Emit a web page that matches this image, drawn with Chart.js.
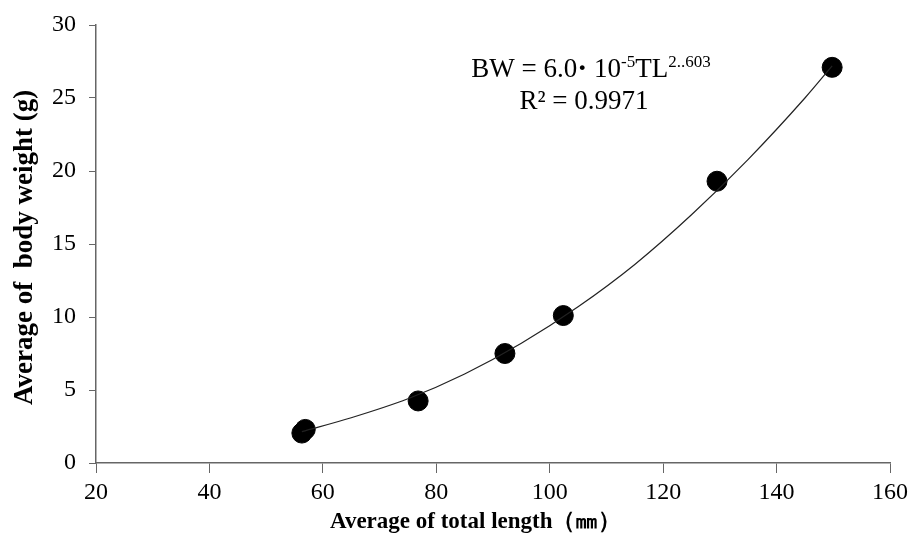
<!DOCTYPE html>
<html>
<head>
<meta charset="utf-8">
<script src="https://cdn.jsdelivr.net/npm/chart.js@4"></script>
<style>
  html, body { margin: 0; padding: 0; background: #fff; }
  #wrap { width: 908px; height: 548px; }
</style>
</head>
<body>
<div id="wrap"><canvas id="c"></canvas></div>
<script>
// measured fish: mean total length (mm) vs mean body weight (g)
const totalLength = [56.3, 56.9, 76.8, 92.1, 102.4, 129.5, 149.8];
const bodyWeight = [2.05, 2.3, 4.25, 7.5, 10.1, 19.3, 27.1];

// power trendline
const trendLength = [56.3, 65, 75, 85, 95, 105, 115, 125, 135, 145, 149.8];
const trendWeight = [2.15, 3.1, 4.4, 6.1, 8.2, 10.7, 13.6, 17.0, 20.8, 25.0, 27.2];

const xTicks = [20, 40, 60, 80, 100, 120, 140, 160];
const yTicks = [0, 5, 10, 15, 20, 25, 30];

const serif = '"Liberation Serif", "Times New Roman", serif';
const axisColor = '#666666';

// equation label drawn on the canvas, with superscripts
const equationLabel = {
  id: 'equationLabel',
  afterDraw(chart) {
    const ctx = chart.ctx;
    ctx.save();
    ctx.fillStyle = '#000';
    ctx.textBaseline = 'alphabetic';
    const big = '27px ' + serif;
    const small = '17px ' + serif;
    const parts = [
      ['BW = 6.0', big, 0],
      ['\u00b7', 'bold 30px ' + serif, 0],
      [' 10', big, 0],
      ['-5', small, -10],
      ['TL', big, 0],
      ['2..603', small, -10],
    ];
    let w = 0;
    parts.forEach(p => { ctx.font = p[1]; w += ctx.measureText(p[0]).width; });
    let x = 591 - w / 2;
    const y = 77;
    parts.forEach(p => {
      ctx.font = p[1];
      ctx.fillText(p[0], x, y + p[2]);
      x += ctx.measureText(p[0]).width;
    });
    ctx.font = big;
    ctx.textAlign = 'center';
    ctx.fillText('R\u00b2 = 0.9971', 584, 109);
    ctx.restore();
  }
};

new Chart(document.getElementById('c'), {
  type: 'scatter',
  data: {
    datasets: [
      {
        label: 'trend',
        type: 'line',
        data: trendLength.map((x, i) => ({ x: x, y: trendWeight[i] })),
        borderColor: '#222',
        borderWidth: 1.2,
        pointRadius: 0,
        tension: 0.4,
        cubicInterpolationMode: 'monotone',
        fill: false,
      },
      {
        label: 'data',
        data: totalLength.map((x, i) => ({ x: x, y: bodyWeight[i] })),
        backgroundColor: '#000',
        borderColor: '#000',
        pointRadius: 10,
        pointHoverRadius: 10,
      },
    ],
  },
  options: {
    responsive: true,
    maintainAspectRatio: false,
    animation: false,
    layout: { padding: { top: 25, right: 18, left: 0, bottom: 0 } },
    plugins: {
      legend: { display: false },
      tooltip: { enabled: false },
    },
    scales: {
      x: {
        type: 'linear',
        min: 20,
        max: 160,
        afterBuildTicks: (s) => { s.ticks = xTicks.map(v => ({ value: v })); },
        afterFit: (s) => { s.height = 85; s.paddingLeft = 0; s.paddingRight = 0; },
        grid: { drawOnChartArea: false, color: axisColor, tickLength: 10, lineWidth: 1 },
        border: { color: axisColor, width: 1.5 },
        ticks: { color: '#000', font: { family: serif, size: 24 }, padding: 5, maxRotation: 0 },
        title: {
          display: true,
          // trailing spaces nudge the title left like the original
          text: 'Average of total length\uff08\u339c\uff09      ',
          color: '#000',
          font: { family: serif, size: 23, weight: 'bold' },
          padding: { top: 0, bottom: 12 },
        },
      },
      y: {
        type: 'linear',
        min: 0,
        max: 30,
        afterBuildTicks: (s) => { s.ticks = yTicks.map(v => ({ value: v })); },
        afterFit: (s) => { s.width = 96; s.paddingTop = 0; s.paddingBottom = 0; },
        grid: { drawOnChartArea: false, color: axisColor, tickLength: 7, lineWidth: 1 },
        border: { color: axisColor, width: 1.5 },
        ticks: { color: '#000', font: { family: serif, size: 24 }, padding: 13 },
        title: {
          display: true,
          text: 'Average of  body weight (g) ',
          color: '#000',
          font: { family: serif, size: 27, weight: 'bold' },
          padding: { top: 9, bottom: 0 },
        },
      },
    },
  },
  plugins: [equationLabel],
});
</script>
</body>
</html>
